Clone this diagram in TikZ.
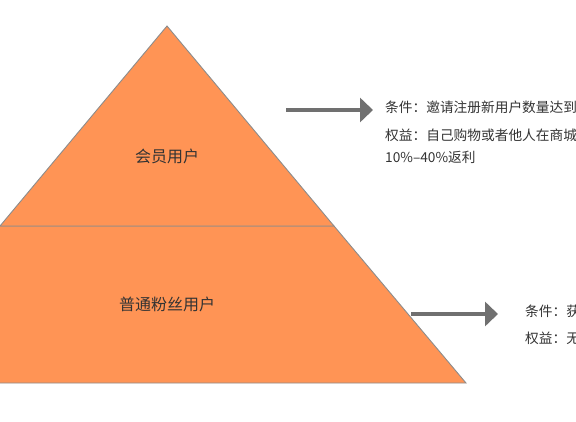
\documentclass[tikz,border=0pt]{standalone}
\usepackage{fontspec}
\setmainfont{Noto Sans CJK SC}
\usetikzlibrary{arrows.meta}
\definecolor{pyrfill}{HTML}{FF9455}
\definecolor{pyredge}{HTML}{8C8C8C}
\definecolor{arrowgray}{HTML}{707070}
\definecolor{txt}{HTML}{333333}
\tikzset{
  layer/.style={fill=pyrfill, draw=pyredge, line width=0.9pt, line join=miter},
  label/.style={text=txt, font=\fontsize{16}{19}\selectfont, inner sep=0pt},
  desc/.style={text=txt, font=\fontsize{13.7}{16}\selectfont, inner sep=0pt, anchor=west},
  bigarrow/.style={draw=arrowgray, line width=4.5pt, -{Triangle[length=13pt,width=24pt]}}
}
\begin{document}
\begin{tikzpicture}[x=1pt,y=-1pt]
\useasboundingbox (0,0) rectangle (576,421);
\clip (0,0) rectangle (576,421);
% lower layer
\draw[layer] (0,226) -- (334,226) -- (466,383) -- (-140,383) -- (-5,226) -- cycle;
% top layer
\draw[layer] (0,226) -- (167,26) -- (334,226) -- cycle;
% labels
\node[label] (member) at (167,156) {会员用户};
\node[label] (fans) at (167,304) {普通粉丝用户};
% arrows
\coordinate (a1s) at (286,110);
\coordinate (a1e) at (373,110);
\coordinate (a2s) at (411,314);
\coordinate (a2e) at (498,314);
\draw[bigarrow] (a1s) -- (a1e);
\draw[bigarrow] (a2s) -- (a2e);
% descriptions
\node[desc] (c1) at (385,107) {条件：邀请注册新用户数量达到};
\node[desc] (r1) at (385,135) {权益：自己购物或者他人在商城};
\node[desc] (r1b) at (385,157) {10\%–40\%返利};
\node[desc] (c2) at (525,311) {条件：获};
\node[desc] (r2) at (525,338) {权益：无};
\end{tikzpicture}
\end{document}
